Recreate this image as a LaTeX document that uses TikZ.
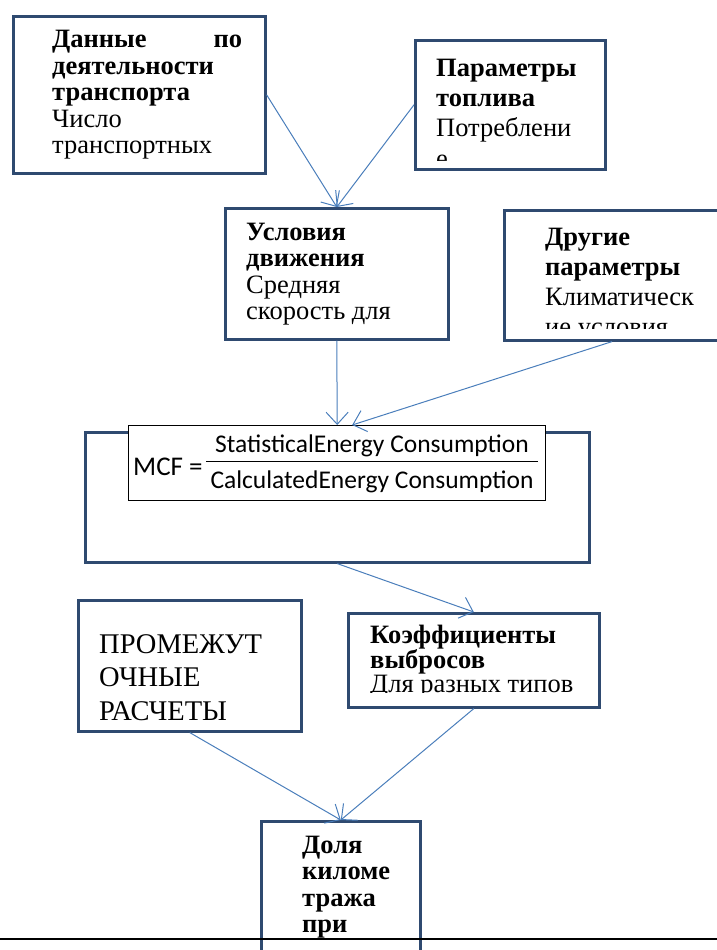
\documentclass[tikz,border=0pt]{standalone}
\usepackage{fontspec}
\setmainfont{Liberation Serif}
\newfontfamily\calib{Carlito}
\usetikzlibrary{arrows.meta}
\newcommand\myfs[2]{\fontsize{#1pt}{#2pt}\selectfont}
\definecolor{boxblue}{HTML}{2F4A70}
\definecolor{arrblue}{HTML}{4A7EBB}
\tikzset{
  box/.style={draw=boxblue, line width=2.6pt, rectangle, inner sep=0pt, anchor=north west},
  fbox/.style={draw=black, line width=1.4pt, fill=white, rectangle, inner sep=0pt, anchor=north west},
  txt/.style={inner sep=0pt, anchor=base west},
  ftxt/.style={inner sep=0pt, anchor=base, font=\calib\myfs{25.5}{30}},
  arr/.style={draw=arrblue, line width=1pt, -{Straight Barb[length=12pt,width=22pt]}},
}
\begin{document}
\begin{tikzpicture}[x=1pt,y=-1pt]
\useasboundingbox (0,0) rectangle (717,950);
\clip (0,0) rectangle (717,950);
% outer MCF box and formula box
\node[box, minimum width=504pt, minimum height=130pt] (b5) at (84,431) {};
\node[fbox, minimum width=417pt, minimum height=75pt] (fb) at (128,425) {};
\node[txt, font=\calib\myfs{27}{30}] (mcf) at (133,475) {MCF =};
\draw[line width=1.2pt] (206,461.5) -- (538,461.5);
\node[ftxt] (num) at (372,452) {StatisticalEnergy Consumption};
\node[ftxt] (den) at (372,488) {CalculatedEnergy Consumption};
% boxes
\node[box, minimum width=252pt, minimum height=157pt] (b1) at (12,15) {};
\node[box, minimum width=190pt, minimum height=129pt] (b2) at (414,39) {};
\node[box, minimum width=223pt, minimum height=131pt] (b3) at (224,207) {};
\node[box, minimum width=237pt, minimum height=130pt] (b4) at (503,209) {};
\node[box, minimum width=223pt, minimum height=131pt] (b6) at (77,599) {};
\node[box, minimum width=251pt, minimum height=94pt] (b7) at (347,612) {};
\node[box, minimum width=159pt, minimum height=160pt] (b8) at (260,820) {};
% texts
\begin{scope}
\clip (14,17) rectangle (262,170);
\node[txt] (t1) at (52,48) {\parbox[t]{190pt}{\myfs{26.5}{26.5}\bfseries Данные\hfill по\\деятельности\\транспорта\\\mdseries Число\\транспортных}};
\end{scope}
\begin{scope}
\clip (416,41) rectangle (602,160);
\node[txt] (t2) at (436,76) {\parbox[t]{160pt}{\myfs{26.5}{30.5}\bfseries Параметры\\топлива\\\mdseries Потреблени\\е}};
\end{scope}
\begin{scope}
\clip (226,209) rectangle (445,328);
\node[txt] (t3) at (246,240) {\parbox[t]{190pt}{\myfs{26.5}{26.5}\bfseries Условия\\движения\\\mdseries Средняя\\скорость для}};
\end{scope}
\begin{scope}
\clip (505,211) rectangle (717,328);
\node[txt] (t4) at (545,245) {\parbox[t]{170pt}{\myfs{26.5}{30}\bfseries Другие\\параметры\\\mdseries Климатическ\\ие условия}};
\end{scope}
\begin{scope}
\clip (79,601) rectangle (298,720);
\node[txt] (t6) at (99,653) {\parbox[t]{190pt}{\myfs{28.5}{33.5}ПРОМЕЖУТ\\ОЧНЫЕ\\РАСЧЕТЫ}};
\end{scope}
\begin{scope}
\clip (349,614) rectangle (596,692);
\node[txt] (t7) at (370,643) {\parbox[t]{220pt}{\myfs{26.5}{23.5}\bfseries Коэффициенты\\выбросов\\\mdseries Для разных типов}};
\end{scope}
\begin{scope}
\clip (262,822) rectangle (417,950);
\node[txt] (t8) at (302,853) {\parbox[t]{110pt}{\myfs{26.5}{26.5}\bfseries Доля\\киломе\\тража\\при}};
\end{scope}
% arrows
\draw[arr] (b1.east) -- (b3.north);
\draw[arr] (b2.west) -- (b3.north);
\draw[arr] (b3.south) -- (fb.north);
\draw[arr] ([xshift=109pt]b4.south west) -- ([xshift=15pt]fb.north);
\draw[arr] (b5.south) -- (b7.north);
\draw[arr] (b6.south) -- (b8.north);
\draw[arr] (b7.south) -- (b8.north);
% bottom rule
\coordinate (ruleL) at (0,939);
\coordinate (ruleR) at (717,939);
\draw[line width=2pt, black] (ruleL) -- (ruleR);
\end{tikzpicture}
\end{document}
